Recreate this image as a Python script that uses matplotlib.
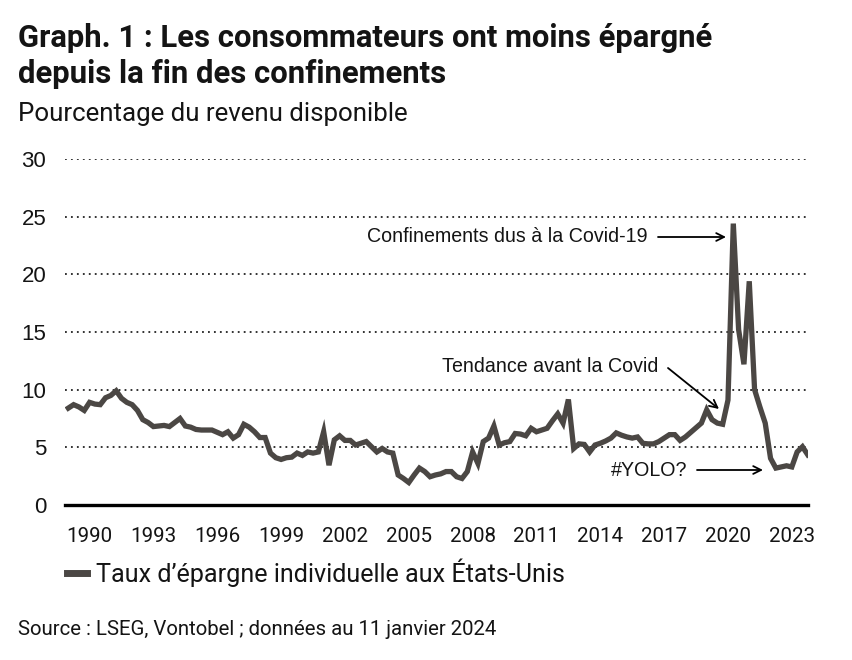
import numpy as np
import matplotlib
matplotlib.use("Agg")
import matplotlib.pyplot as plt
import matplotlib.font_manager as fm

# ---------------- data ----------------
start_year = 1989
savings_rate = [
    8.4, 8.7, 8.5, 8.2, 8.9, 8.75, 8.7, 9.3, 9.5, 9.9,
    9.25, 8.9, 8.7, 8.2, 7.4, 7.15, 6.8, 6.85, 6.9, 6.8,
    7.15, 7.5, 6.85, 6.75, 6.55, 6.5, 6.5, 6.5, 6.3, 6.1,
    6.35, 5.8, 6.1, 7.0, 6.75, 6.35, 5.85, 5.85, 4.5, 4.1,
    3.95, 4.1, 4.15, 4.5, 4.3, 4.6, 4.5, 4.6, 6.35, 3.45,
    5.65, 6.0, 5.6, 5.6, 5.2, 5.35, 5.5, 5.05, 4.6, 4.9,
    4.6, 4.5, 2.6, 2.3, 1.95, 2.6, 3.2, 2.9, 2.45, 2.6,
    2.7, 2.9, 2.9, 2.45, 2.3, 2.9, 4.6, 3.6, 5.5, 5.8,
    6.85, 5.2, 5.4, 5.5, 6.2, 6.15, 6.0, 6.65, 6.35, 6.5,
    6.65, 7.3, 7.9, 7.1, 9.15, 4.9, 5.3, 5.25, 4.6, 5.2,
    5.35, 5.55, 5.8, 6.25, 6.05, 5.9, 5.8, 5.9, 5.35, 5.3,
    5.3, 5.5, 5.8, 6.1, 6.1, 5.6, 5.9, 6.3, 6.7, 7.1,
    8.25, 7.4, 7.1, 7.0, 9.1, 24.4, 15.2, 12.2, 19.4, 10.0,
    8.5, 7.1, 4.05, 3.2, 3.3, 3.4, 3.3, 4.6, 5.05, 4.35,
]
x_ticks = [1990, 1993, 1996, 1999, 2002, 2005, 2008, 2011, 2014, 2017, 2020, 2023]
y_ticks = [0, 5, 10, 15, 20, 25, 30]

title_1 = "Graph. 1 : Les consommateurs ont moins épargné"
title_2 = "depuis la fin des confinements"
subtitle = "Pourcentage du revenu disponible"
legend_label = "Taux d’épargne individuelle aux États-Unis"
source = "Source : LSEG, Vontobel ; données au 11 janvier 2024"
ann_covid = "Confinements dus à la Covid-19"
ann_trend = "Tendance avant la Covid"
ann_yolo = "#YOLO?"

# quarterly time axis
quarters = start_year + np.arange(len(savings_rate)) / 4.0

# ---------------- fonts ----------------
names = {f.name for f in fm.fontManager.ttflist}
NARROW = "Liberation Sans Narrow" if "Liberation Sans Narrow" in names else "Roboto"
REG = "Liberation Sans" if "Liberation Sans" in names else "DejaVu Sans"

LINE_COLOR = "#4b4744"
TEXT_COLOR = "#141414"

W, H = 852, 660
fig = plt.figure(figsize=(W / 100, H / 100), dpi=100)
fig.patch.set_facecolor("white")
renderer = fig.canvas.get_renderer()


def fit_size(s, width_px, family, weight="normal"):
    t = fig.text(0, 0, s, fontsize=20, family=family, weight=weight)
    w = t.get_window_extent(renderer).width
    t.remove()
    return 20 * width_px / w


def fig_text(x_px, y_px, s, width_px, family, weight="normal", va="baseline"):
    fs = fit_size(s, width_px, family, weight)
    return fig.text(x_px / W, 1 - y_px / H, s, fontsize=fs, family=family,
                    weight=weight, va=va, ha="left", color=TEXT_COLOR)


# axes placement
ax_l, ax_r, ax_b, ax_t = 65, 808, 505, 159
ax = fig.add_axes([ax_l / W, (H - ax_b) / H, (ax_r - ax_l) / W, (ax_b - ax_t) / H])
px_per_year = 21.28
x0 = start_year - (68.3 - ax_l) / px_per_year
x1 = start_year + (ax_r - 68.3) / px_per_year
ax.set_xlim(x0, x1)
ax.set_ylim(0, 30)

for v in y_ticks[1:]:
    ax.axhline(v, color="#222222", lw=1.3, linestyle=(0, (1, 2.3)), zorder=1)
ax.axhline(0, color="black", lw=2.4, zorder=3, clip_on=False)

ax.plot(quarters, savings_rate, color=LINE_COLOR, lw=3.8, solid_joinstyle="miter",
        zorder=4, label=legend_label)

for s in ax.spines.values():
    s.set_visible(False)

ax.set_yticks(y_ticks)
ax.set_yticklabels([str(v) for v in y_ticks], family=REG, fontsize=16, color=TEXT_COLOR)
ax.set_xticks(x_ticks)
xfs = fit_size("1990", 46, NARROW)
ax.set_xticklabels([str(v) for v in x_ticks], family=NARROW, fontsize=xfs, color=TEXT_COLOR)
ax.tick_params(axis="both", length=0)
ax.tick_params(axis="y", pad=13.5)
ax.tick_params(axis="x", pad=16)

# annotations (data coordinates)
def yr(xpx):
    return start_year + (xpx - 68.3) / px_per_year


def val(ypx):
    return (ax_b - ypx) / ((ax_b - ax_t) / 30.0)


afs = fit_size(ann_covid, 279, REG)
ax.text(yr(648), val(237), ann_covid, ha="right", va="center", family=REG,
        fontsize=afs, color=TEXT_COLOR)
ax.text(yr(658), val(367), ann_trend, ha="right", va="center", family=REG,
        fontsize=afs, color=TEXT_COLOR)
ax.text(yr(687), val(470), ann_yolo, ha="right", va="center", family=REG,
        fontsize=afs, color=TEXT_COLOR)

arrow_kw = dict(arrowstyle="->", lw=1.3, color="black", shrinkA=0, shrinkB=0,
                mutation_scale=14)
ax.annotate("", xy=(yr(726), val(237)), xytext=(yr(658), val(237)), arrowprops=arrow_kw)
ax.annotate("", xy=(yr(719), val(409)), xytext=(yr(668), val(368)), arrowprops=arrow_kw)
ax.annotate("", xy=(yr(763), val(470)), xytext=(yr(697), val(470)), arrowprops=arrow_kw)

# titles
fig_text(18, 47, title_1, 692, NARROW, weight="bold")
fig_text(18, 83, title_2, 429, NARROW, weight="bold")
fig_text(18, 121, subtitle, 389, NARROW)

# legend
lfs = fit_size(legend_label, 469, NARROW)
lpx = lfs * 100 / 72
leg = ax.legend(loc="center left", bbox_to_anchor=(67 / W, 1 - 573 / H),
                bbox_transform=fig.transFigure, frameon=False,
                prop=fm.FontProperties(family=NARROW, size=lfs),
                handlelength=20 / lpx, handletextpad=9 / lpx, borderpad=0,
                borderaxespad=0)
for h in leg.get_lines():
    h.set_linewidth(5)
for t in leg.get_texts():
    t.set_color(TEXT_COLOR)

# source
fig_text(18, 635, source, 479, NARROW)

fig.savefig("out.png", dpi=100, facecolor="white")
